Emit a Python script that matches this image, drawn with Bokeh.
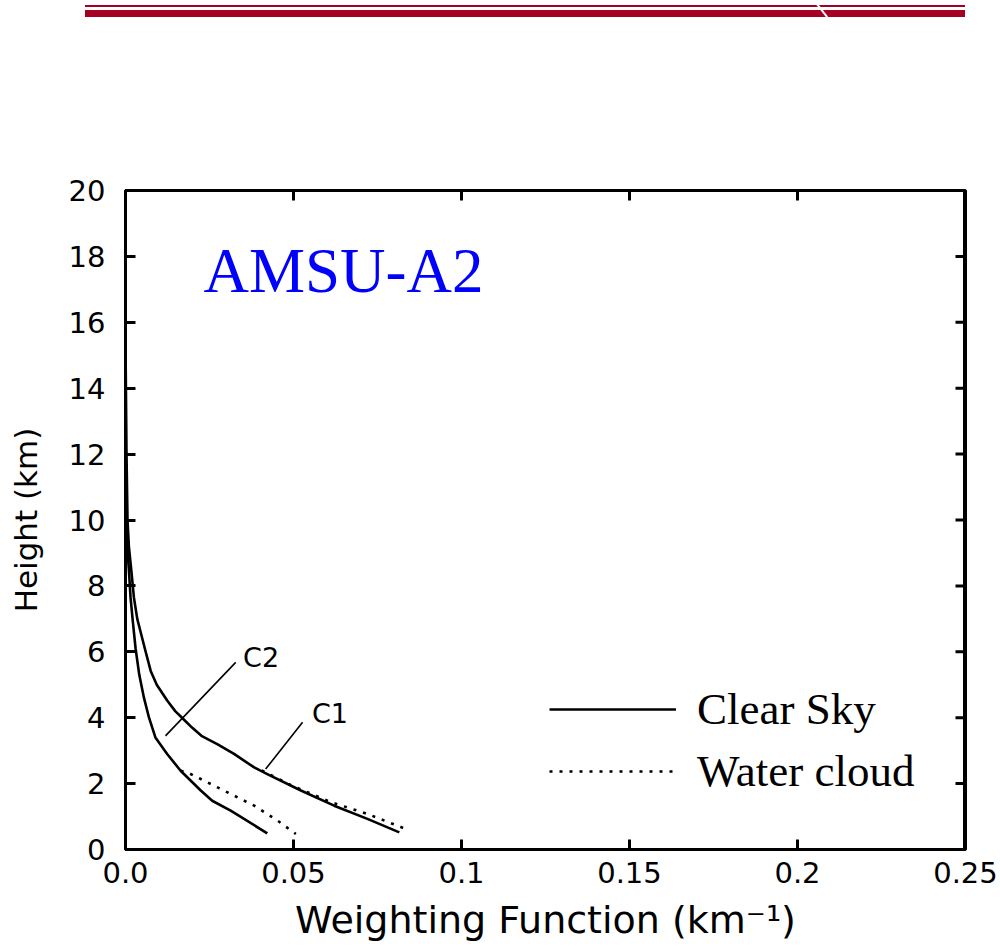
from bokeh.plotting import figure
from bokeh.models import Label, Legend, LegendItem, FixedTicker, Range1d, Span, Div
from bokeh.layouts import column
from bokeh.embed import file_html
from bokeh.resources import INLINE

# ---- data ----
c1_clear_y = [15.4, 12.0, 10.0, 9.2, 8.5, 7.65, 7.0, 6.6, 6.0, 5.42, 5.0, 4.52, 4.2, 3.96, 3.7, 3.45, 3.2, 2.9, 2.49, 2.29, 1.79, 1.33, 0.93, 0.52]
c1_clear_x = [0.0, 0.0003, 0.0006, 0.001, 0.0017, 0.0025, 0.0035, 0.0045, 0.006, 0.0075, 0.0093, 0.0124, 0.0148, 0.0172, 0.0198, 0.0226, 0.0273, 0.0323, 0.0383, 0.0422, 0.0522, 0.0621, 0.072, 0.0815]
c1_cloud_y = [2.4, 1.94, 1.43, 1.08, 0.58]
c1_cloud_x = [0.0405, 0.0495, 0.0613, 0.072, 0.0845]

c2_clear_y = [10.7, 9.2, 8.5, 7.65, 6.9, 6.1, 5.3, 4.6, 4.0, 3.4, 2.9, 2.39, 1.79, 1.48, 1.18, 0.49]
c2_clear_x = [0.0, 0.0005, 0.001, 0.0015, 0.0022, 0.003, 0.0041, 0.0055, 0.007, 0.0089, 0.0124, 0.0164, 0.0224, 0.0258, 0.0313, 0.0422]
c2_cloud_y = [2.39, 2.34, 1.84, 1.33, 0.88, 0.47]
c2_cloud_x = [0.0164, 0.0184, 0.0283, 0.0383, 0.0452, 0.0507]

x_ticks = [0.0, 0.05, 0.1, 0.15, 0.2, 0.25]
x_tick_labels = ["0.0", "0.05", "0.1", "0.15", "0.2", "0.25"]
y_ticks = [0, 2, 4, 6, 8, 10, 12, 14, 16, 18, 20]

curve_names = ["C1", "C2"]
name_x = [0.0555, 0.0350]
name_y = [4.12, 5.82]
leader_x0 = [0.0527, 0.0328]
leader_y0 = [3.86, 5.68]
leader_x1 = [0.0417, 0.0119]
leader_y1 = [2.44, 3.45]

X_MIN, X_MAX = 0.0, 0.25
Y_MIN, Y_MAX = 0.0, 20.0
FRAME_W, FRAME_H = 840, 659
TICK_LEN = 10

# ---- slide header banner (decoration) ----
RED = "#A50021"
banner_html = (
    '<div style="position:relative;width:1000px;height:40px;overflow:hidden;">'
    f'<div style="position:absolute;left:85px;top:5px;width:880px;height:2px;background:{RED};"></div>'
    f'<div style="position:absolute;left:85px;top:10px;width:880px;height:7px;background:{RED};"></div>'
    '<div style="position:absolute;left:821px;top:2px;width:2px;height:17px;background:white;'
    'transform:rotate(-38deg);"></div>'
    '</div>'
)
banner = Div(text=banner_html, width=1000, height=40, margin=0)

# ---- main chart ----
p = figure(width=1000, height=911, x_range=Range1d(X_MIN, X_MAX), y_range=Range1d(Y_MIN, Y_MAX),
           output_backend="svg", toolbar_location=None,
           min_border_left=125, min_border_right=35, min_border_top=150, min_border_bottom=102)
p.outline_line_color = "black"
p.outline_line_width = 3
p.grid.visible = False
p.background_fill_color = "white"

TICK_FONT = "DejaVu Sans"
bottom_ax = p.below[0]
left_ax = p.left[0]

bottom_ax.ticker = FixedTicker(ticks=x_ticks)
bottom_ax.major_label_overrides = {t: l for t, l in zip(x_ticks, x_tick_labels)}
bottom_ax.axis_label = "Weighting Function (km\u207b\u00b9)"
left_ax.ticker = FixedTicker(ticks=y_ticks)
left_ax.axis_label = "Height (km)"

for ax in [bottom_ax, left_ax]:
    ax.axis_line_width = 3
    ax.axis_line_color = "black"
    ax.major_tick_in = TICK_LEN
    ax.major_tick_out = 0
    ax.major_tick_line_width = 3
    ax.minor_tick_line_color = None
    ax.major_label_text_font = TICK_FONT
    ax.major_label_text_font_size = "29px"
    ax.major_label_text_color = "black"
    ax.axis_label_text_font = TICK_FONT
    ax.axis_label_text_font_style = "normal"
    ax.axis_label_text_color = "black"

bottom_ax.major_label_standoff = 12
bottom_ax.axis_label_text_font_size = "38px"
bottom_ax.axis_label_standoff = 12
left_ax.major_label_standoff = 20
left_ax.axis_label_text_font_size = "31px"
left_ax.axis_label_standoff = 22

# inward ticks on the top and right edges, at the same tick values
dy_tick = TICK_LEN * (Y_MAX - Y_MIN) / FRAME_H
dx_tick = TICK_LEN * (X_MAX - X_MIN) / FRAME_W
p.segment(x0=x_ticks, y0=[Y_MAX] * len(x_ticks), x1=x_ticks, y1=[Y_MAX - dy_tick] * len(x_ticks),
          line_color="black", line_width=3)
p.segment(x0=[X_MAX] * len(y_ticks), y0=y_ticks, x1=[X_MAX - dx_tick] * len(y_ticks), y1=y_ticks,
          line_color="black", line_width=3)
p.add_layout(Span(location=X_MAX, dimension="height", line_color="black", line_width=5))

r_c1 = p.line(c1_clear_x, c1_clear_y, line_color="black", line_width=2.6, line_join="round")
r_c2 = p.line(c2_clear_x, c2_clear_y, line_color="black", line_width=2.6, line_join="round")
r_c1w = p.line(c1_cloud_x, c1_cloud_y, line_color="black", line_width=2.6, line_dash="3 7")
r_c2w = p.line(c2_cloud_x, c2_cloud_y, line_color="black", line_width=2.6, line_dash="3 7")

p.segment(x0=leader_x0, y0=leader_y0, x1=leader_x1, y1=leader_y1, line_color="black", line_width=1.6)
for name, nx, ny in zip(curve_names, name_x, name_y):
    p.add_layout(Label(x=nx, y=ny, text=name, text_font=TICK_FONT, text_font_size="27px",
                       text_color="black", text_baseline="middle"))

p.add_layout(Label(x=0.0232, y=17.55, text="AMSU-A2", text_font="Liberation Serif",
                   text_font_size="63px", text_color="#0000ff", text_baseline="alphabetic"))

legend = Legend(items=[LegendItem(label="Clear Sky", renderers=[r_c1]),
                       LegendItem(label="Water cloud", renderers=[r_c1w])],
                location=(424, 52), orientation="vertical",
                glyph_width=127, glyph_height=40, label_height=40, spacing=10,
                label_standoff=21, padding=0, margin=0,
                border_line_color=None, background_fill_alpha=0,
                label_text_font="Liberation Serif", label_text_font_size="45px",
                label_text_color="black")
p.add_layout(legend)

layout = column(banner, p, spacing=0)
open("out.html", "w").write(file_html(layout, INLINE))
